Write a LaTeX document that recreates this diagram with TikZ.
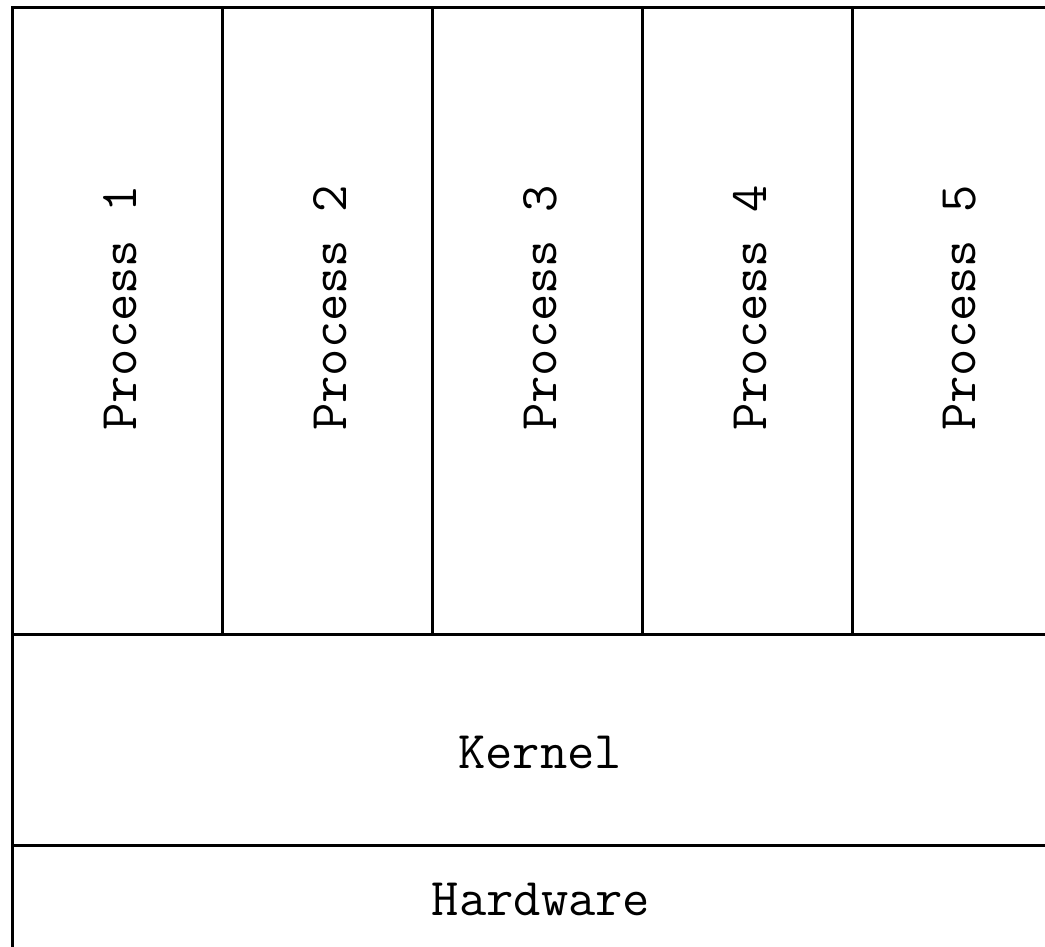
\documentclass[tikz,border=0pt]{standalone}
\usetikzlibrary{positioning}
\tikzset{
  blk/.style={draw=black,line width=3pt,inner sep=0pt,outer sep=0pt},
  procbox/.style={blk,minimum width=210pt,minimum height=627pt},
  layerbox/.style={blk,minimum width=1050pt,minimum height=211pt},
  lbl/.style={font=\fontsize{53}{62}\selectfont\ttfamily,inner sep=0pt},
}
\begin{document}
\begin{tikzpicture}[x=1pt,y=-1pt]
\useasboundingbox (0,0) rectangle (1045,946);
\clip (0,0) rectangle (1045,946);
\foreach \i in {1,...,5} {
  \node[procbox] (p\i) at ({117+210*(\i-1)},320.5) {};
  \node[lbl,rotate=90] (t\i) at ({120+210*(\i-1)},308) {Process \i};
}
\node[layerbox] (kern) at (537,739.5) {};
\node[lbl] (tk) at (540,752) {Kernel};
\node[layerbox] (hw) at (537,950.5) {};
\node[lbl] (th) at (541,899) {Hardware};
\end{tikzpicture}
\end{document}
